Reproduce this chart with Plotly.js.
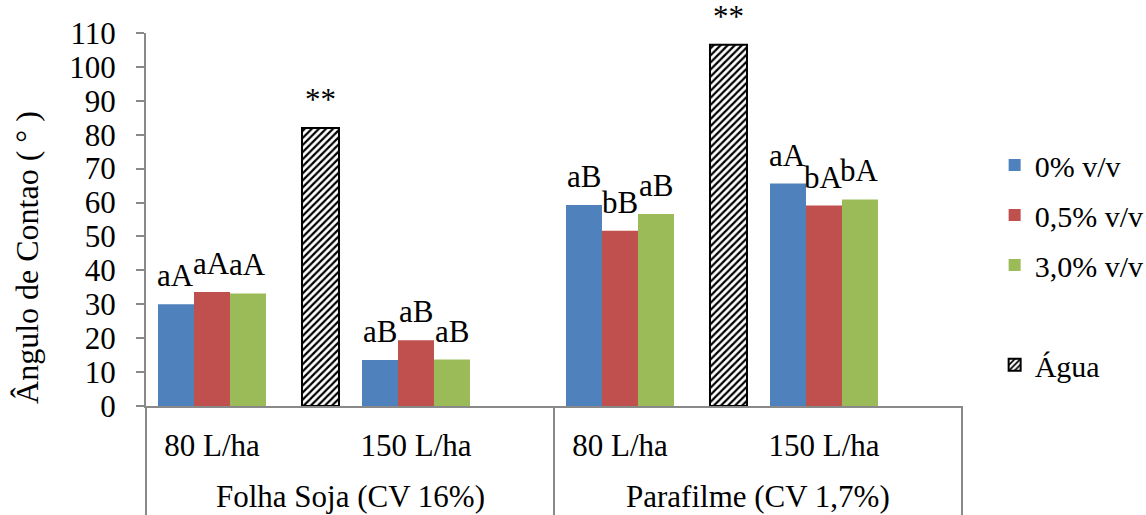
<!DOCTYPE html>
<html>
<head>
<meta charset="utf-8">
<script src="https://cdn.plot.ly/plotly-3.0.1.min.js"></script>
<style>html,body{margin:0;padding:0;background:#fff;}#chart{width:1146px;height:515px;}</style>
</head>
<body>
<div id="chart"></div>
<script>
// ---- data ----
const groups = ["Folha Soja (CV 16%)", "Parafilme (CV 1,7%)"];
const rates = ["80 L/ha", "150 L/ha"];
const seriesNames = ["0% v/v", "0,5% v/v", "3,0% v/v"];
// order: [Folha 80, Folha 150, Parafilme 80, Parafilme 150]
const vals0 = [30.0, 13.6, 59.3, 65.6];
const vals1 = [33.6, 19.4, 51.7, 59.1];
const vals2 = [33.2, 13.7, 56.6, 60.9];
const labels0 = ["aA", "aB", "aB", "aA"];
const labels1 = ["aA", "aB", "bB", "bA"];
const labels2 = ["aA", "aB", "aB", "bA"];
const aguaName = "Água";
const aguaVals = [82.0, 106.5];
const aguaLabels = ["**", "**"];
const yTitle = "Ângulo de Contao ( ° )";

// ---- build ----
const FONT = "Liberation Serif, Times New Roman, serif";
const FS = 31;
const colors = ["#4F81BD", "#C0504D", "#9BBB59"];
const trioKeys = [];
groups.forEach(g => rates.forEach(r => trioKeys.push(g + "|" + r)));
const aguaKeys = groups.map(g => g + "|" + aguaName);
const catOrder = [];
groups.forEach((g, gi) => {
  catOrder.push(g + "|" + rates[0], g + "|" + aguaName, g + "|" + rates[1]);
  if (gi < groups.length - 1) catOrder.push("gap" + gi);
});

const pxPerUnit = 102;
const barW = 36 / pxPerUnit;
const aguaW = 37 / pxPerUnit;
const series = [vals0, vals1, vals2];
const seriesLabels = [labels0, labels1, labels2];

const traces = series.map((v, i) => ({
  type: "bar",
  name: seriesNames[i],
  x: trioKeys,
  y: v,
  width: barW,
  offset: (i - 1.5) * barW,
  marker: {color: colors[i], line: {width: 0}},
  legend: "legend",
  legendgroup: "g" + i,
  hoverinfo: "skip"
}));
traces.push({
  type: "bar",
  name: aguaName,
  x: aguaKeys,
  y: aguaVals,
  width: aguaW,
  offset: -aguaW / 2 + 6.5 / pxPerUnit,
  marker: {
    color: "white",
    line: {color: "black", width: 2},
    pattern: {shape: "/", fgcolor: "black", bgcolor: "white", size: 5, solidity: 0.45}
  },
  legend: "legend2",
  hoverinfo: "skip"
});

const annotations = [];
series.forEach((v, i) => {
  v.forEach((val, k) => {
    annotations.push({
      x: trioKeys[k], y: val, xref: "x", yref: "y",
      text: seriesLabels[i][k], showarrow: false,
      xanchor: "center", yanchor: "bottom",
      xshift: (i - 1) * 36, yshift: 9,
      font: {family: FONT, size: FS, color: "#000"}
    });
  });
});
aguaVals.forEach((val, k) => {
  annotations.push({
    x: aguaKeys[k], y: val, xref: "x", yref: "y",
    text: aguaLabels[k], showarrow: false,
    xanchor: "center", yanchor: "bottom",
    xshift: 6.5, yshift: 9,
    font: {family: FONT, size: FS, color: "#000"}
  });
});
groups.forEach((g, gi) => {
  annotations.push({
    x: (gi + 0.5) / groups.length, y: -0.243, xref: "paper", yref: "paper",
    text: g, showarrow: false, xanchor: "center", yanchor: "middle",
    font: {family: FONT, size: FS, color: "#000"}
  });
});
// y-axis title (placed off-centre as in the reference)
annotations.push({
  x: -0.1458, y: 0.397, xref: "paper", yref: "paper",
  text: yTitle, textangle: -90, showarrow: false,
  xanchor: "center", yanchor: "middle",
  font: {family: FONT, size: 32, color: "#000"}
});

const shapes = [];
for (let gi = 0; gi <= groups.length; gi++) {
  shapes.push({
    type: "line", xref: "paper", yref: "paper",
    x0: gi / groups.length, x1: gi / groups.length, y0: 0, y1: -0.35,
    line: {color: "#898989", width: 2}
  });
}

const layout = {
  width: 1146, height: 515,
  margin: {l: 146, r: 184, t: 33, b: 109, pad: 0, autoexpand: false},
  paper_bgcolor: "white", plot_bgcolor: "white",
  font: {family: FONT, size: FS, color: "#000"},
  barmode: "overlay",
  showlegend: true,
  xaxis: {
    type: "category",
    categoryorder: "array",
    categoryarray: catOrder,
    range: [-0.647, 7.353],
    tickvals: trioKeys,
    ticktext: trioKeys.map(k => k.split("|")[1]),
    ticks: "",
    showline: true, linecolor: "#898989", linewidth: 2,
    showgrid: false, zeroline: false,
    tickfont: {family: FONT, size: FS, color: "#000"},
    ticklabelstandoff: 11,
    fixedrange: true
  },
  yaxis: {
    range: [0, 110],
    dtick: 10, tick0: 0,
    ticks: "outside", ticklen: 8, tickwidth: 2, tickcolor: "#898989",
    showline: true, linecolor: "#898989", linewidth: 2,
    showgrid: false, zeroline: false,
    tickfont: {family: FONT, size: FS, color: "#000"},
    ticklabelstandoff: 14,
    fixedrange: true
  },
  legend: {
    x: 1.04, xanchor: "left", y: 0.716, yanchor: "top",
    font: {family: FONT, size: 30, color: "#000"},
    tracegroupgap: 8, traceorder: "grouped",
    bgcolor: "rgba(0,0,0,0)", borderwidth: 0
  },
  legend2: {
    x: 1.04, xanchor: "left", y: 0.18, yanchor: "top",
    font: {family: FONT, size: 30, color: "#000"},
    bgcolor: "rgba(0,0,0,0)", borderwidth: 0
  },
  annotations: annotations,
  shapes: shapes
};

Plotly.newPlot("chart", traces, layout, {displayModeBar: false, staticPlot: true});
</script>
</body>
</html>
